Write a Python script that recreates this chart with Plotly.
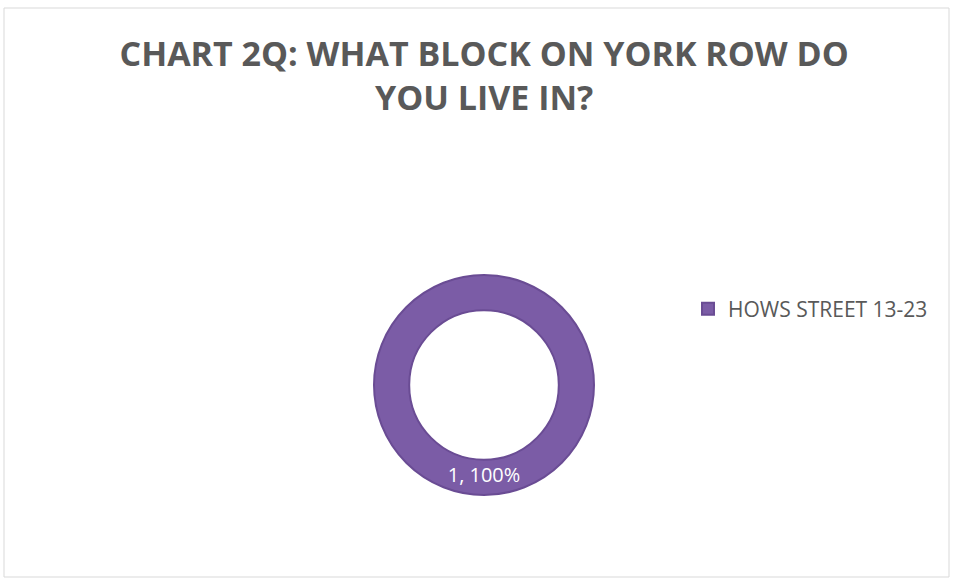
import plotly.graph_objects as go

# data
blocks = ["HOWS STREET 13-23"]
counts = [1]
slice_colors = ["#7B5CA6"]

title_text = "CHART 2Q: WHAT BLOCK ON YORK ROW DO<br>YOU LIVE IN?"

W, H = 953, 579
FONT = "'Open Sans', Lato, sans-serif"

fig = go.Figure()

fig.add_trace(
    go.Pie(
        labels=blocks,
        values=counts,
        hole=0.68,
        sort=False,
        direction="clockwise",
        rotation=0,
        marker=dict(colors=slice_colors, line=dict(color="#6A4C94", width=2)),
        texttemplate="%{value}, %{percent:.0%}",
        textposition="inside",
        insidetextorientation="horizontal",
        textfont=dict(family=FONT, size=20, color="white"),
        domain=dict(x=[374 / W, 594 / W], y=[1 - 495 / H, 1 - 275 / H]),
        showlegend=True,
    )
)

# light frame round the chart area
fig.add_shape(
    type="rect", xref="paper", yref="paper",
    x0=4 / W, x1=949 / W, y0=1 - 577 / H, y1=1 - 8 / H,
    line=dict(color="#D9D9D9", width=1),
)

fig.update_layout(
    width=W,
    height=H,
    margin=dict(l=0, r=0, t=0, b=0),
    paper_bgcolor="white",
    plot_bgcolor="white",
    title=dict(
        text=title_text,
        x=0.508,
        xanchor="center",
        y=1 - 66 / H,
        yanchor="top",
        font=dict(family=FONT, size=34, color="#595959", weight="bold"),
    ),
    legend=dict(
        x=688 / W,
        xanchor="left",
        y=1 - 309 / H,
        yanchor="middle",
        font=dict(family=FONT, size=21, color="#595959"),
        bgcolor="rgba(0,0,0,0)",
        itemwidth=30,
    ),
)

# drop the page's default body margin so the figure sits at the window's corner
fig.write_html(
    "out.html",
    config={"displayModeBar": False},
    post_script="document.body.style.margin='0';",
)
